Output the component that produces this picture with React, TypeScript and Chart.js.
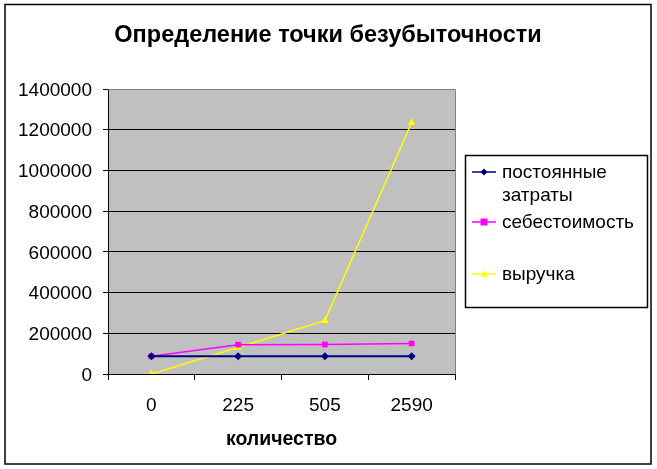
import React, { useEffect, useRef } from "react";
import { Chart, registerables } from "chart.js";

Chart.register(...registerables);

const chartTitle = "Определение точки безубыточности";
const xAxisTitle = "количество";
const categories = ["0", "225", "505", "2590"];
const seriesNames = ["постоянные затраты", "себестоимость", "выручка"];
const fixedCosts = [87000, 87000, 87000, 87000];
const costPrice = [87000, 144000, 145000, 150000];
const revenue = [0, 130000, 262000, 1234000];
const yMin = 0;
const yMax = 1400000;
const yStep = 200000;

const FONT = "'Liberation Sans', Arial, sans-serif";

function drawMarker(ctx: CanvasRenderingContext2D, style: string, x: number, y: number, r: number, color: string) {
  ctx.save();
  ctx.fillStyle = color;
  ctx.strokeStyle = color;
  ctx.beginPath();
  if (style === "rectRot") {
    ctx.moveTo(x, y - r);
    ctx.lineTo(x + r, y);
    ctx.lineTo(x, y + r);
    ctx.lineTo(x - r, y);
  } else if (style === "rect") {
    ctx.rect(x - r, y - r, 2 * r, 2 * r);
  } else {
    ctx.moveTo(x, y - r);
    ctx.lineTo(x + r, y + r * 0.8);
    ctx.lineTo(x - r, y + r * 0.8);
  }
  ctx.closePath();
  ctx.fill();
  ctx.restore();
}

function wrapText(ctx: CanvasRenderingContext2D, text: string, maxW: number): string[] {
  const words = text.split(" ");
  const lines: string[] = [];
  let cur = "";
  for (const w of words) {
    const test = cur ? cur + " " + w : w;
    if (ctx.measureText(test).width > maxW && cur) {
      lines.push(cur);
      cur = w;
    } else cur = test;
  }
  if (cur) lines.push(cur);
  return lines;
}

const decorPlugin = {
  id: "decor",
  beforeDraw(chart: any) {
    const { ctx, chartArea } = chart;
    ctx.save();
    ctx.fillStyle = "#ffffff";
    ctx.fillRect(0, 0, chart.width, chart.height);
    ctx.fillStyle = "#C0C0C0";
    ctx.fillRect(chartArea.left, chartArea.top, chartArea.right - chartArea.left, chartArea.bottom - chartArea.top);
    ctx.restore();
  },
  afterDraw(chart: any) {
    const { ctx, chartArea } = chart;
    ctx.save();
    // plot border (top & right) gray
    ctx.strokeStyle = "#808080";
    ctx.lineWidth = 1;
    ctx.beginPath();
    ctx.moveTo(chartArea.left, Math.round(chartArea.top) + 0.5);
    ctx.lineTo(chartArea.right + 0.5, Math.round(chartArea.top) + 0.5);
    ctx.lineTo(chartArea.right + 0.5, chartArea.bottom);
    ctx.stroke();

    // title
    ctx.fillStyle = "#000";
    ctx.textAlign = "center";
    ctx.textBaseline = "middle";
    ctx.font = `bold 23.5px ${FONT}`;
    ctx.fillText(chartTitle, 328, 36);

    // x axis title
    ctx.font = `bold 19.5px ${FONT}`;
    ctx.fillText(xAxisTitle, (chartArea.left + chartArea.right) / 2, 440);

    // legend
    const lx = 465.5, ly = 155.5, lw = 182, lh = 152;
    ctx.strokeStyle = "#000";
    ctx.lineWidth = 1.5;
    ctx.strokeRect(lx, ly, lw, lh);
    ctx.font = `19px ${FONT}`;
    ctx.textAlign = "left";
    const itemY = [172, 222, 274];
    chart.data.datasets.forEach((ds: any, i: number) => {
      const y = itemY[i];
      ctx.strokeStyle = ds.borderColor;
      ctx.lineWidth = 1.5;
      ctx.beginPath();
      ctx.moveTo(472, y);
      ctx.lineTo(496, y);
      ctx.stroke();
      drawMarker(ctx, ds.pointStyle, 484, y, 3.5, ds.borderColor);
      ctx.fillStyle = "#000";
      const lines = wrapText(ctx, ds.label, 146);
      lines.forEach((ln, k) => ctx.fillText(ln, 502, y + 1 + k * 23));
    });

    // outer frame
    ctx.strokeStyle = "#000";
    ctx.lineWidth = 1.5;
    ctx.strokeRect(5, 4.5, 646, 459.5);
    ctx.restore();
  },
};

export default function App() {
  const canvasRef = useRef<HTMLCanvasElement | null>(null);

  useEffect(() => {
    document.body.style.margin = "0";
    const canvas = canvasRef.current!;
    const chart = new Chart(canvas, {
      type: "line",
      data: {
        labels: categories,
        datasets: [
          {
            label: seriesNames[0],
            data: fixedCosts,
            borderColor: "#000080",
            backgroundColor: "#000080",
            borderWidth: 2,
            pointStyle: "rectRot",
            pointRadius: 4,
            pointBorderWidth: 0,
            tension: 0,
          },
          {
            label: seriesNames[1],
            data: costPrice,
            borderColor: "#FF00FF",
            backgroundColor: "#FF00FF",
            borderWidth: 1.5,
            pointStyle: "rect",
            pointRadius: 4,
            pointBorderWidth: 0,
            tension: 0,
          },
          {
            label: seriesNames[2],
            data: revenue,
            borderColor: "#FFFF00",
            backgroundColor: "#FFFF00",
            borderWidth: 1.5,
            pointStyle: "triangle",
            pointRadius: 4.5,
            pointBorderWidth: 0,
            tension: 0,
          },
        ],
      },
      options: {
        responsive: false,
        animation: false,
        devicePixelRatio: 1,
        layout: { padding: { top: 89, left: 0, right: 202, bottom: 0 } },
        plugins: {
          legend: { display: false },
          title: { display: false },
          tooltip: { enabled: false },
        },
        scales: {
          x: {
            offset: true,
            grid: {
              display: true,
              drawOnChartArea: false,
              drawTicks: true,
              tickLength: 6,
              color: "#000",
              offset: true,
            },
            border: { display: true, color: "#000", width: 1 },
            ticks: {
              color: "#000",
              font: { family: FONT, size: 19 },
              padding: 14,
              maxRotation: 0,
            },
            afterFit: (scale: any) => {
              scale.height = 95;
            },
          },
          y: {
            min: yMin,
            max: yMax,
            ticks: {
              stepSize: yStep,
              color: "#000",
              font: { family: FONT, size: 19 },
              padding: 11,
              labelOffset: 1.5,
              callback: (v: any) => String(v),
            },
            grid: { color: "#000", tickLength: 5, drawTicks: true },
            border: { display: true, color: "#000", width: 1 },
            afterFit: (scale: any) => {
              scale.width = 108;
            },
          },
        },
      },
      plugins: [decorPlugin],
    });
    return () => chart.destroy();
  }, []);

  return (
    <div style={{ position: "absolute", left: 0, top: 0, width: 657, height: 469 }}>
      <canvas ref={canvasRef} width={657} height={469} style={{ width: 657, height: 469 }} />
    </div>
  );
}
